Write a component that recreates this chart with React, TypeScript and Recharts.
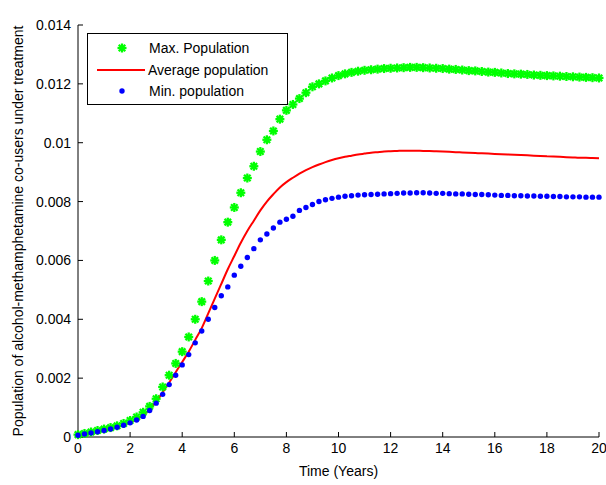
import { LineChart, Line, XAxis, YAxis, Label } from 'recharts';

// time in years
const time = [
  0, 0.25, 0.5, 0.75,
  1, 1.25, 1.5, 1.75,
  2, 2.25, 2.5, 2.75,
  3, 3.25, 3.5, 3.75,
  4, 4.25, 4.5, 4.75,
  5, 5.25, 5.5, 5.75,
  6, 6.25, 6.5, 6.75,
  7, 7.25, 7.5, 7.75,
  8, 8.25, 8.5, 8.75,
  9, 9.25, 9.5, 9.75,
  10, 10.25, 10.5, 10.75,
  11, 11.25, 11.5, 11.75,
  12, 12.25, 12.5, 12.75,
  13, 13.25, 13.5, 13.75,
  14, 14.25, 14.5, 14.75,
  15, 15.25, 15.5, 15.75,
  16, 16.25, 16.5, 16.75,
  17, 17.25, 17.5, 17.75,
  18, 18.25, 18.5, 18.75,
  19, 19.25, 19.5, 19.75,
  20,
];

const maxPopulation = [
  0.00008, 0.00012, 0.00017, 0.00022,
  0.00027, 0.00032, 0.00038, 0.00046,
  0.00056, 0.00068, 0.00084, 0.00104,
  0.0013, 0.0017, 0.0021, 0.0025,
  0.0029, 0.0034, 0.004, 0.0046,
  0.0053, 0.006, 0.0067, 0.0073,
  0.0078, 0.0083, 0.0088, 0.0092,
  0.0097, 0.0101, 0.0104, 0.0108,
  0.0111, 0.0113, 0.0115, 0.0117,
  0.0119, 0.012, 0.0121, 0.0122,
  0.01228, 0.01234, 0.01239, 0.01243,
  0.01246, 0.01248, 0.0125, 0.01252,
  0.01253, 0.01254, 0.01255, 0.01256,
  0.01256, 0.01255, 0.01254, 0.01253,
  0.01252, 0.0125, 0.01249, 0.01247,
  0.01245, 0.01244, 0.01242, 0.0124,
  0.01239, 0.01237, 0.01235, 0.01234,
  0.01233, 0.01232, 0.0123, 0.01229,
  0.01228, 0.01227, 0.01226, 0.01225,
  0.01224, 0.01223, 0.01222, 0.01221,
  0.0122,
];

const avgPopulation = [
  0.00006, 0.0001, 0.00014, 0.00018,
  0.00023, 0.00028, 0.00034, 0.00041,
  0.0005, 0.0006, 0.00074, 0.00094,
  0.0012, 0.00152, 0.00185, 0.0022,
  0.00255, 0.0029, 0.0033, 0.0037,
  0.0042, 0.0047, 0.0052, 0.0057,
  0.00615, 0.0066, 0.007, 0.00735,
  0.0077, 0.008, 0.00825, 0.00848,
  0.00866, 0.00881, 0.00895, 0.00907,
  0.00917, 0.00926, 0.00934, 0.00941,
  0.00947, 0.00952, 0.00956, 0.0096,
  0.00963, 0.00966, 0.00968, 0.0097,
  0.00971, 0.00972, 0.00973, 0.00973,
  0.00973, 0.00972, 0.00972, 0.00971,
  0.0097, 0.00969, 0.00968, 0.00967,
  0.00966, 0.00965, 0.00964, 0.00963,
  0.00962, 0.00961, 0.0096, 0.00959,
  0.00958, 0.00957, 0.00956, 0.00955,
  0.00954, 0.00953, 0.00952, 0.00951,
  0.0095, 0.00949, 0.00949, 0.00948,
  0.00947,
];

const minPopulation = [
  0.00006, 0.0001, 0.00014, 0.00018,
  0.00022, 0.00027, 0.00033, 0.0004,
  0.00048, 0.00058, 0.0007, 0.0009,
  0.00115, 0.00145, 0.00178, 0.0021,
  0.00245, 0.0028, 0.0032, 0.0036,
  0.004, 0.0044, 0.0048, 0.0051,
  0.0055, 0.0058, 0.0061, 0.0064,
  0.0067, 0.0069, 0.0071, 0.0073,
  0.0074, 0.0075, 0.0077, 0.0078,
  0.0079, 0.008, 0.00806, 0.00811,
  0.00815, 0.00818, 0.0082, 0.00822,
  0.00823, 0.00824, 0.00825, 0.00826,
  0.00827, 0.00828, 0.00829, 0.00829,
  0.0083, 0.0083, 0.00829, 0.00828,
  0.00828, 0.00827, 0.00826, 0.00826,
  0.00825, 0.00824, 0.00824, 0.00823,
  0.00822, 0.00821, 0.00821, 0.0082,
  0.0082, 0.00819, 0.00819, 0.00818,
  0.00818, 0.00817, 0.00817, 0.00816,
  0.00816, 0.00816, 0.00815, 0.00815,
  0.00815,
];

const xTicks = [0, 2, 4, 6, 8, 10, 12, 14, 16, 18, 20];
const yTicks = [0, 0.002, 0.004, 0.006, 0.008, 0.01, 0.012, 0.014];

const data = time.map((t, i) => ({
  t,
  max: maxPopulation[i],
  avg: avgPopulation[i],
  min: minPopulation[i],
}));

const GREEN = '#00ff00';
const RED = '#ff0000';
const BLUE = '#0000ff';

function StarMark({ cx, cy, size = 4.5 }: { cx: number; cy: number; size?: number }) {
  const d = size * 0.72;
  return (
    <g stroke={GREEN} strokeWidth={2.3}>
      <line x1={cx - size} y1={cy} x2={cx + size} y2={cy} />
      <line x1={cx} y1={cy - size} x2={cx} y2={cy + size} />
      <line x1={cx - d} y1={cy - d} x2={cx + d} y2={cy + d} />
      <line x1={cx - d} y1={cy + d} x2={cx + d} y2={cy - d} />
    </g>
  );
}

const starDot = (props: any) => {
  const { cx, cy, index } = props;
  if (cx == null || cy == null) return <g key={`s${index}`} />;
  return (
    <g key={`s${index}`}>
      <StarMark cx={cx} cy={cy} />
    </g>
  );
};

const blueDot = (props: any) => {
  const { cx, cy, index } = props;
  if (cx == null || cy == null) return <g key={`b${index}`} />;
  return <circle key={`b${index}`} cx={cx} cy={cy} r={2.7} fill={BLUE} />;
};

function ChartLegend() {
  return (
    <svg
      width={202}
      height={73}
      style={{ position: 'absolute', left: 87, top: 33 }}
    >
      <rect x={0.5} y={0.5} width={200} height={71} fill="#fff" stroke="#000" />
      <StarMark cx={35} cy={15} />
      <text x={62} y={15} dy="0.35em" fontSize={14} fill="#000">Max. Population</text>
      <line x1={10} y1={37} x2={58} y2={37} stroke={RED} strokeWidth={2} />
      <text x={61} y={37} dy="0.35em" fontSize={14} fill="#000">Average population</text>
      <circle cx={35} cy={58} r={2.7} fill={BLUE} />
      <text x={62} y={58} dy="0.35em" fontSize={14} fill="#000">Min. population</text>
    </svg>
  );
}

export default function App() {
  return (
    <div
      style={{
        position: 'absolute',
        left: 0,
        top: 0,
        width: 606,
        height: 485,
        background: '#fff',
        fontFamily: '"Liberation Sans", Arial, sans-serif',
      }}
    >
      <LineChart
        width={606}
        height={485}
        data={data}
        margin={{ top: 25, right: 7, bottom: 8, left: 8 }}
      >
        <XAxis
          dataKey="t"
          type="number"
          domain={[0, 20]}
          ticks={xTicks}
          height={40}
          stroke="#000"
          tickSize={-5}
          tickMargin={11}
          tick={{ fill: '#000', fontSize: 14 }}
          interval={0}
        >
          <Label value="Time (Years)" position="insideBottom" offset={1} fill="#000" fontSize={14} />
        </XAxis>
        <YAxis
          type="number"
          domain={[0, 0.014]}
          ticks={yTicks}
          width={70}
          stroke="#000"
          tickSize={-5}
          tickMargin={12}
          tick={{ fill: '#000', fontSize: 14 }}
          interval={0}
          tickFormatter={(v: number) => String(v)}
        >
          <Label
            value="Population of alcohol-methamphetamine co-users under treatment"
            angle={-90}
            position="insideLeft"
            offset={10}
            fill="#000"
            fontSize={14}
            style={{ textAnchor: 'middle' }}
          />
        </YAxis>
        <Line
          dataKey="max"
          stroke="none"
          dot={starDot}
          activeDot={false}
          isAnimationActive={false}
        />
        <Line
          dataKey="avg"
          stroke={RED}
          strokeWidth={2}
          dot={false}
          activeDot={false}
          type="monotone"
          isAnimationActive={false}
        />
        <Line
          dataKey="min"
          stroke="none"
          dot={blueDot}
          activeDot={false}
          isAnimationActive={false}
        />
      </LineChart>
      <ChartLegend />
    </div>
  );
}
